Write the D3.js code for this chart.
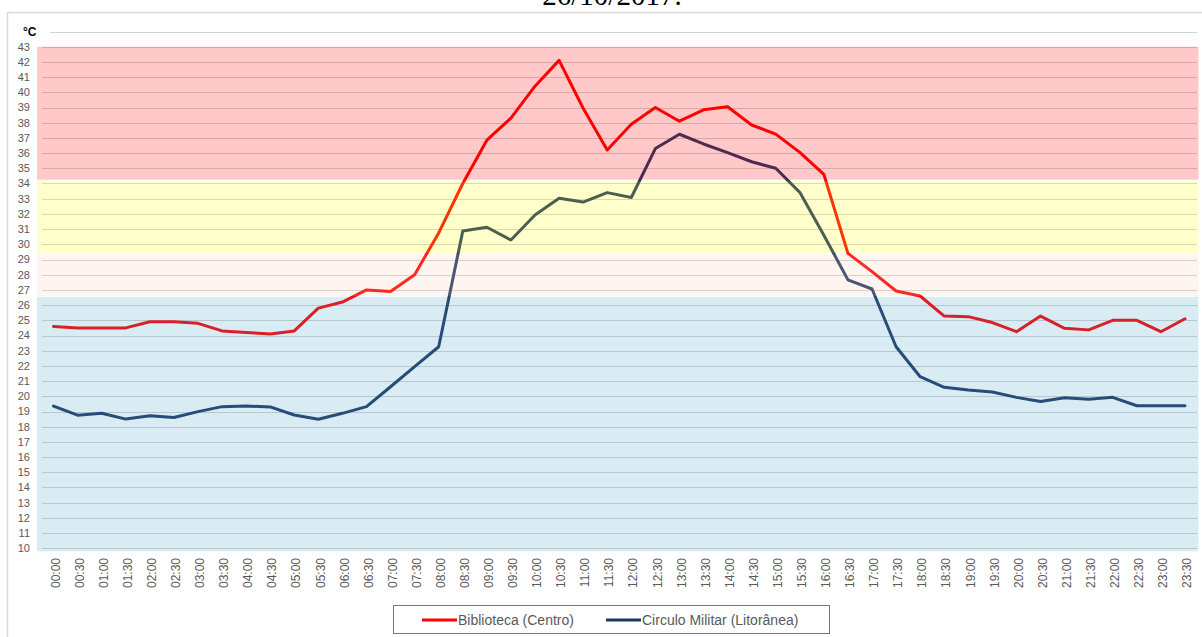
<!DOCTYPE html>
<html>
<head>
<meta charset="utf-8">
<script src="https://cdn.jsdelivr.net/npm/d3@7"></script>
<style>
  html, body { margin: 0; padding: 0; background: #ffffff; }
  svg { display: block; }
</style>
</head>
<body>
<svg id="chart" width="1202" height="637"></svg>
<script>
// Half-hourly time slots
const times = ["00:00","00:30","01:00","01:30","02:00","02:30","03:00","03:30","04:00","04:30",
  "05:00","05:30","06:00","06:30","07:00","07:30","08:00","08:30","09:00","09:30",
  "10:00","10:30","11:00","11:30","12:00","12:30","13:00","13:30","14:00","14:30",
  "15:00","15:30","16:00","16:30","17:00","17:30","18:00","18:30","19:00","19:30",
  "20:00","20:30","21:00","21:30","22:00","22:30","23:00","23:30"];

// Temperatures (°C)
const biblioteca = [24.6,24.5,24.5,24.5,24.9,24.9,24.8,24.3,24.2,24.1,
  24.3,25.8,26.2,27.0,26.9,28.0,30.75,34.0,36.85,38.3,
  40.4,42.1,38.95,36.2,37.9,39.0,38.1,38.85,39.05,37.85,
  37.25,36.05,34.6,29.4,28.2,26.93,26.6,25.28,25.24,24.85,
  24.25,25.28,24.47,24.37,25.0,25.0,24.25,25.1];

const circuloMilitar = [19.36,18.76,18.88,18.5,18.72,18.6,18.99,19.32,19.36,19.3,
  18.77,18.49,18.88,19.32,20.63,21.95,23.26,30.87,31.12,30.28,
  31.93,33.03,32.78,33.4,33.08,36.3,37.24,36.6,36.03,35.43,
  35.0,33.42,30.6,27.66,27.06,23.26,21.29,20.59,20.41,20.28,
  19.93,19.66,19.91,19.8,19.93,19.38,19.38,19.38];

const seriesNames = ["Biblioteca (Centro)", "Circulo Militar (Litorânea)"];
const seriesColors = ["#ff0000", "#1f3864"];

// Comfort bands [low, high] and their tint
const bandLow  = [34.2, 29.4, 26.6, 9.8];
const bandHigh = [43, 34.2, 29.4, 26.6];
const bandFill = ["rgb(255,0,0)", "rgb(255,255,0)", "rgb(255,205,180)", "rgb(70,160,195)"];
const bandAlpha = [0.21, 0.2, 0.2, 0.2];

const yTicks = d3.range(10, 44);
const title = "26/10/2017.";

const svg = d3.select("#chart");

// Outer chart frame
svg.append("rect")
  .attr("x", 7.5).attr("y", 12.5)
  .attr("width", 1200).attr("height", 640)
  .attr("fill", "#ffffff").attr("stroke", "#d9d9d9").attr("stroke-width", 1.5);

svg.append("text")
  .attr("x", 612).attr("y", 5)
  .attr("text-anchor", "middle")
  .attr("font-family", "'Liberation Serif', 'DejaVu Serif', serif")
  .attr("font-size", 29)
  .attr("fill", "#000")
  .text(title);

const x = d3.scalePoint().domain(times).range([41.5, 1197]).padding(0.5);
const y = d3.scaleLinear().domain([10, 44]).range([548.3, 31.5]);

// Horizontal gridlines
svg.append("g")
  .selectAll("line")
  .data(d3.range(10, 45))
  .join("line")
  .attr("x1", 42).attr("x2", 1197)
  .attr("y1", d => Math.round(y(d)) + 0.5)
  .attr("y2", d => Math.round(y(d)) + 0.5)
  .attr("stroke", "#d3d3d3").attr("stroke-width", 1);

// Series lines
const line = d3.line().x((d, i) => x(times[i])).y(d => y(d));
[biblioteca, circuloMilitar].forEach((vals, k) => {
  svg.append("path")
    .datum(vals)
    .attr("d", line)
    .attr("fill", "none")
    .attr("stroke", seriesColors[k])
    .attr("stroke-width", 3)
    .attr("stroke-linejoin", "round")
    .attr("stroke-linecap", "round");
});

// Translucent comfort bands laid over the lines
svg.append("g")
  .selectAll("rect")
  .data(bandLow.map((lo, i) => ({ lo, hi: bandHigh[i], fill: bandFill[i], a: bandAlpha[i] })))
  .join("rect")
  .attr("x", 37).attr("width", 1198.5 - 37)
  .attr("y", d => y(d.hi) + (d.hi === 43 ? 0 : 0.8))
  .attr("height", d => y(d.lo) - y(d.hi) - 0.8)
  .attr("fill", d => d.fill)
  .attr("fill-opacity", d => d.a);

// Y axis tick labels
svg.append("g")
  .selectAll("text")
  .data(yTicks)
  .join("text")
  .attr("x", 30).attr("y", d => y(d))
  .attr("dy", "0.35em")
  .attr("text-anchor", "end")
  .attr("font-family", "'Liberation Sans', Arial, sans-serif")
  .attr("font-size", 11)
  .attr("fill", "#595959")
  .text(d => d);

// Unit label
svg.append("rect").attr("x", 12).attr("y", 22).attr("width", 38).attr("height", 18).attr("fill", "#fff");
svg.append("text")
  .attr("x", 23).attr("y", y(44))
  .attr("dy", "0.35em")
  .attr("font-family", "'Liberation Sans', Arial, sans-serif")
  .attr("font-size", 12).attr("font-weight", "bold")
  .attr("fill", "#000")
  .text("°C");

// X axis labels, rotated
svg.append("g")
  .selectAll("text")
  .data(times)
  .join("text")
  .attr("transform", d => `translate(${x(d) + 2},558) rotate(-90)`)
  .attr("dy", "0.35em")
  .attr("text-anchor", "end")
  .attr("font-family", "'Liberation Sans', Arial, sans-serif")
  .attr("font-size", 12)
  .attr("fill", "#595959")
  .text(d => d);

// Legend
const legend = svg.append("g");
legend.append("rect")
  .attr("x", 393.5).attr("y", 605.5).attr("width", 436).attr("height", 28)
  .attr("fill", "#fff").attr("stroke", "#6d7b93").attr("stroke-width", 1);
const legendX = [422, 606];
seriesNames.forEach((name, k) => {
  legend.append("line")
    .attr("x1", legendX[k]).attr("x2", legendX[k] + 35)
    .attr("y1", 620).attr("y2", 620)
    .attr("stroke", seriesColors[k]).attr("stroke-width", 3);
  legend.append("text")
    .attr("x", legendX[k] + 36).attr("y", 620)
    .attr("dy", "0.35em")
    .attr("font-family", "'Liberation Sans', Arial, sans-serif")
    .attr("font-size", 14)
    .attr("fill", "#595959")
    .text(name);
});
</script>
</body>
</html>
